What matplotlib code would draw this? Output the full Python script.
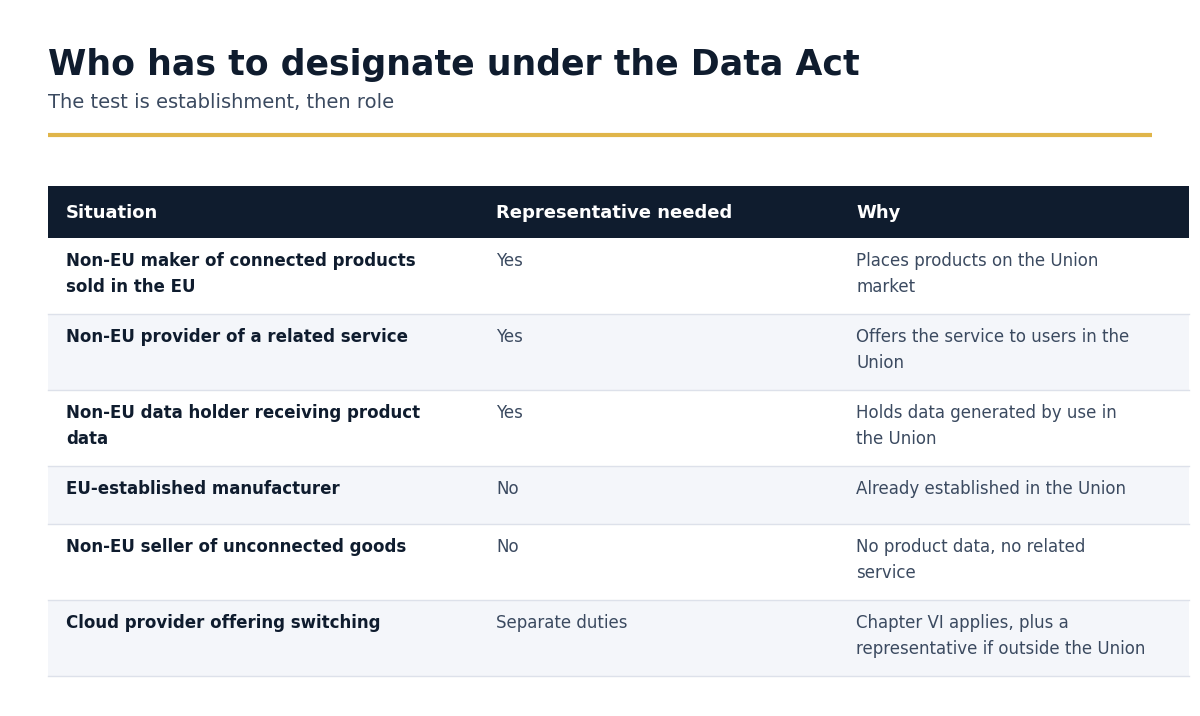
import matplotlib.pyplot as plt
from matplotlib.patches import Rectangle

title = "Who has to designate under the Data Act"
subtitle = "The test is establishment, then role"
headers = ["Situation", "Representative needed", "Why"]
situations = ["Non-EU maker of connected products\nsold in the EU",
              "Non-EU provider of a related service",
              "Non-EU data holder receiving product\ndata",
              "EU-established manufacturer",
              "Non-EU seller of unconnected goods",
              "Cloud provider offering switching"]
needed = ["Yes", "Yes", "Yes", "No", "No", "Separate duties"]
why = ["Places products on the Union\nmarket",
       "Offers the service to users in the\nUnion",
       "Holds data generated by use in\nthe Union",
       "Already established in the Union",
       "No product data, no related\nservice",
       "Chapter VI applies, plus a\nrepresentative if outside the Union"]
row_heights = [76, 76, 76, 58, 76, 76]

navy = "#0f1c2e"
slate = "#3b4a60"

fig = plt.figure(figsize=(12, 7.16), dpi=100)
ax = fig.add_axes([0, 0, 1, 1])
ax.set_xlim(0, 1200)
ax.set_ylim(716, 0)
ax.axis("off")

ax.text(48, 75, title, fontsize=25, fontweight="bold", color=navy, va="baseline")
ax.text(48, 108, subtitle, fontsize=14, color=slate, va="baseline")
ax.plot([48, 1152], [134.5, 134.5], color="#e0b54a", lw=3, solid_capstyle="butt")

cols = [66, 496, 856]
ax.add_patch(Rectangle((48, 186), 1141, 52, color=navy, lw=0))
for x, h in zip(cols, headers):
    ax.text(x, 213, h, fontsize=13, fontweight="bold", color="white", va="center")

y = 238
for i, (s, n, w) in enumerate(zip(situations, needed, why)):
    rh = row_heights[i]
    bg = "white" if i % 2 == 0 else "#f4f6fa"
    ax.add_patch(Rectangle((48, y), 1141, rh, color=bg, lw=0))
    ax.plot([48, 1189], [y + rh, y + rh], color="#dde1ea", lw=1)
    kw = dict(fontsize=12, va="top", linespacing=1.55)
    ax.text(cols[0], y + 14, s, color=navy, fontweight="bold", **kw)
    ax.text(cols[1], y + 14, n, color=slate, **kw)
    ax.text(cols[2], y + 14, w, color=slate, **kw)
    y += rh

fig.savefig("out.png", dpi=100)
